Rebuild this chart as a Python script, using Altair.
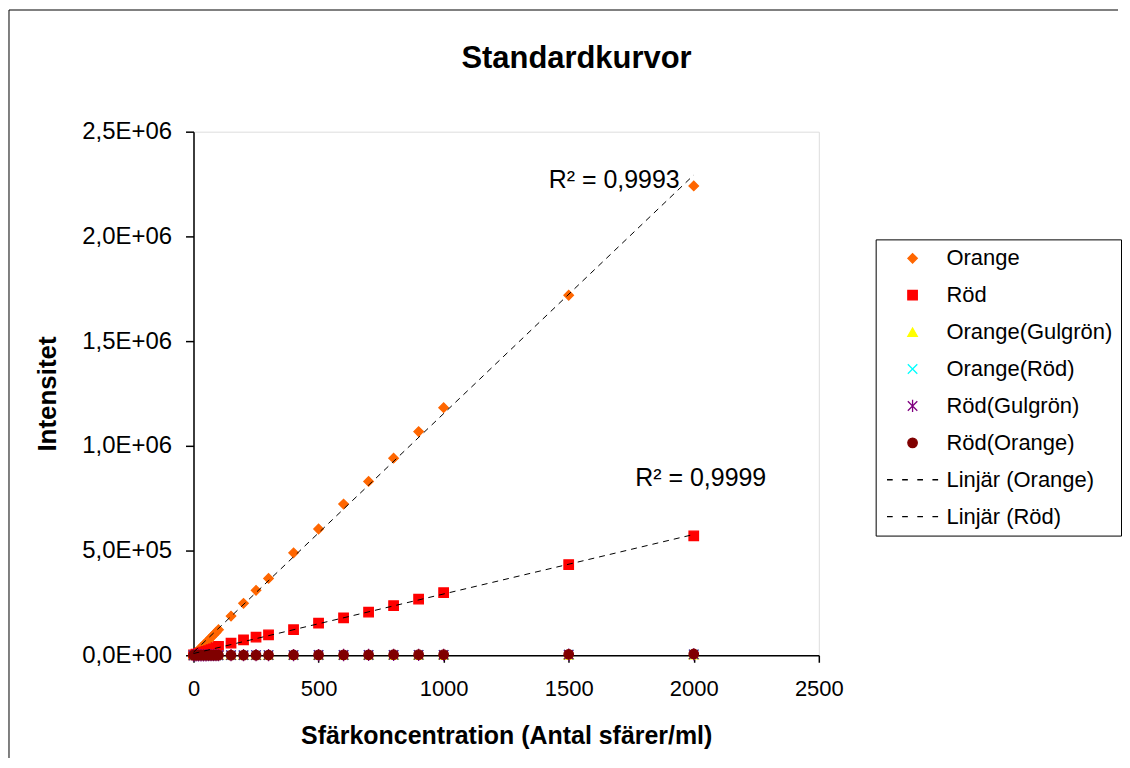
import altair as alt
import pandas as pd

# ---- data ----
x_vals = [0, 10, 20, 30, 40, 50, 60, 70, 80, 90, 100, 150, 200, 250, 300,
          400, 500, 600, 700, 800, 900, 1000, 1500, 2000]

orange = [0, 12000, 24000, 36000, 48500, 60000, 72000, 84500, 97000, 109000,
          122000, 187000, 248000, 310000, 367000, 489000, 603000, 722000,
          830000, 941000, 1068000, 1182000, 1719000, 2241000]
rod = [2000, 5000, 8000, 11000, 14500, 18000, 22000, 26500, 31000, 37000,
       43000, 58000, 74000, 87000, 97000, 122000, 154000, 178000, 206000,
       237000, 268000, 299000, 433000, 570000]
orange_gulgron = [50, 60, 70, 80, 90, 100, 110, 120, 130, 140, 150, 200,
                  250, 300, 350, 450, 550, 650, 750, 850, 950, 1050,
                  1500, 2000]
orange_rod = [80, 100, 120, 140, 160, 180, 200, 220, 240, 260, 280, 400,
              500, 600, 700, 900, 1100, 1300, 1500, 1700, 1900, 2100,
              3100, 4100]
rod_gulgron = [100, 120, 140, 160, 180, 200, 220, 240, 260, 280, 300, 450,
               550, 650, 750, 950, 1150, 1350, 1550, 1750, 1950, 2150,
               3200, 4300]
rod_orange = [120, 150, 180, 210, 240, 270, 300, 330, 360, 390, 420, 600,
              750, 900, 1050, 1350, 1650, 1950, 2250, 2550, 2850, 3150,
              4700, 6200]

series_names = ["Orange", "Röd", "Orange(Gulgrön)", "Orange(Röd)",
                "Röd(Gulgrön)", "Röd(Orange)"]
series_values = [orange, rod, orange_gulgron, orange_rod, rod_gulgron, rod_orange]
trend_names = ["Linjär (Orange)", "Linjär (Röd)"]
legend_names = series_names + trend_names

chart_title = "Standardkurvor"
r2_text = ["R² = 0,9993", "R² = 0,9999"]
r2_x = [1682, 2028]
r2_y = [2271000, 848000]

x_ticks = [0, 500, 1000, 1500, 2000, 2500]
y_ticks = [0, 500000, 1000000, 1500000, 2000000, 2500000]
y_tick_labels = ["0,0E+00", "5,0E+05", "1,0E+06", "1,5E+06", "2,0E+06", "2,5E+06"]

# ---- styles ----
X_PATH = "M-1,-1L1,1M-1,1L1,-1"
STAR_PATH = "M-1,-1L1,1M-1,1L1,-1M0,-1.3L0,1.3"
DASH_PATH = "M-5.4,0L-4.2,0M-2.2,0L-1.0,0M1.0,0L2.2,0M4.2,0L5.4,0"
shapes = ["diamond", "square", "triangle-up", X_PATH, STAR_PATH, "circle",
          DASH_PATH, DASH_PATH]
strokes = ["#FF6600", "#FF0000", "#FFFF00", "#00FFFF", "#800080", "#800000",
           "#000000", "#000000"]
fills = ["#FF6600", "#FF0000", "#FFFF00", "transparent", "transparent",
         "#800000", "transparent", "transparent"]

FONT = "Liberation Sans"

rows = []
for name, vals in zip(series_names, series_values):
    for xv, yv in zip(x_vals, vals):
        rows.append({"series": name, "x": xv, "y": yv})
df = pd.DataFrame(rows)
r2_df = pd.DataFrame({"x": r2_x, "y": r2_y, "t": r2_text})
dummy = pd.DataFrame({"t": [chart_title]})

ylab_expr = "[" + ",".join("'%s'" % s for s in y_tick_labels) + "][indexof([" + \
    ",".join(str(v) for v in y_ticks) + "], datum.value)]"

xscale = alt.Scale(domain=[0, 2500], nice=False)
yscale = alt.Scale(domain=[0, 2500000], nice=False)

legend = alt.Legend(
    title=None, orient="none", legendX=684, legendY=108,
    strokeColor="#000000", fillColor="#FFFFFF", padding=8,
    labelFont=FONT, labelFontSize=22, labelColor="#000000",
    symbolSize=90, symbolStrokeWidth=1.3, symbolOffset=18, labelOffset=23,
    rowPadding=15, labelLimit=400,
)

points = alt.Chart(df).mark_point(filled=False, size=90, strokeWidth=1.3,
                                  opacity=1).encode(
    x=alt.X("x:Q", scale=xscale, axis=alt.Axis(
        values=x_ticks, format="d", grid=False, tickSize=7, labelFlush=False,
        labelFont=FONT, labelFontSize=22, labelPadding=16, labelColor="#000",
        domainColor="#000", tickColor="#000", domainWidth=1.5, tickWidth=1.5,
        title="Sfärkoncentration (Antal sfärer/ml)", titleFont=FONT,
        titleFontSize=25, titleFontWeight="bold", titlePadding=24,
        titleColor="#000")),
    y=alt.Y("y:Q", scale=yscale, axis=alt.Axis(
        values=y_ticks, labelExpr=ylab_expr, grid=False, tickSize=8,
        labelFont=FONT, labelFontSize=24, labelPadding=14, labelColor="#000",
        domainColor="#000", tickColor="#000", domainWidth=1.5, tickWidth=1.5,
        title="Intensitet", titleFont=FONT, titleFontSize=26,
        titleFontWeight="bold", titlePadding=21, titleColor="#000")),
    shape=alt.Shape("series:N", scale=alt.Scale(domain=legend_names, range=shapes),
                    legend=legend),
    stroke=alt.Stroke("series:N", scale=alt.Scale(domain=legend_names, range=strokes),
                      legend=legend),
    fill=alt.Fill("series:N", scale=alt.Scale(domain=legend_names, range=fills),
                  legend=legend),
)

trend = alt.Chart(df).transform_filter(
    alt.FieldOneOfPredicate(field="series", oneOf=["Orange", "Röd"])
).transform_regression("x", "y", groupby=["series"], method="linear").mark_line(
    color="#000000", strokeDash=[6, 5], strokeWidth=1
).encode(
    x=alt.X("x:Q", scale=xscale),
    y=alt.Y("y:Q", scale=yscale),
    detail="series:N",
)

labels = alt.Chart(r2_df).mark_text(font=FONT, fontSize=25, color="#000",
                                    align="center", baseline="middle").encode(
    x=alt.X("x:Q", scale=xscale),
    y=alt.Y("y:Q", scale=yscale),
    text="t:N",
)

title = alt.Chart(dummy).mark_text(font=FONT, fontSize=31, fontWeight="bold",
                                   color="#000", align="center",
                                   baseline="alphabetic").encode(
    x=alt.value(384), y=alt.value(-64), text="t:N")

frame_top = alt.Chart(dummy).mark_rule(color="#000", strokeWidth=1).encode(
    x=alt.value(-185), x2=alt.value(927), y=alt.value(-122))
frame_left = alt.Chart(dummy).mark_rule(color="#000", strokeWidth=1).encode(
    x=alt.value(-185), y=alt.value(-122), y2=alt.value(628))

chart = alt.layer(frame_top, frame_left, title, points, trend, labels).properties(
    width=627, height=525, padding=0,
).configure_view(stroke="#888888", strokeWidth=1.5).configure(background="#FFFFFF")

chart.save("out.html", embed_options={"renderer": "svg", "actions": False})
